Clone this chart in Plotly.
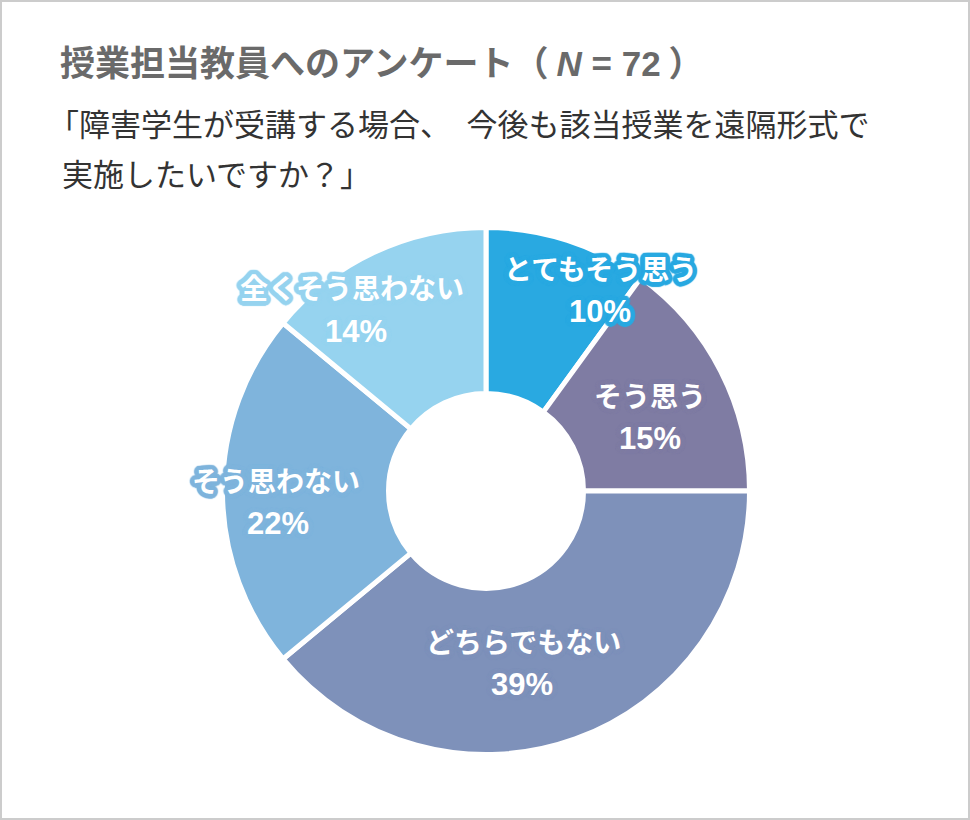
import math
import plotly.graph_objects as go

# ---- data ----
categories = ["とてもそう思う", "そう思う", "どちらでもない", "そう思わない", "全くそう思わない"]
percentages = [10, 15, 39, 22, 14]
slice_colors = ["#29A9E1", "#7F7CA3", "#7E91BA", "#7FB4DC", "#96D3EF"]

title_main = "授業担当教員へのアンケート"
title_n = "<i>N</i> = 72"
subtitle_lines = ["「障害学生が受講する場合、　今後も該当授業を遠隔形式で", "実施したいですか？」"]

# ---- layout constants (pixels) ----
W, H = 970, 820
cx, cy, R = 486, 491, 263.5
hole = 0.37

# label centre positions in pixels (name line, percentage line)
label_pos = [
    ((600, 270), (600, 311)),
    ((650, 397), (650, 438)),
    ((523, 643), (522, 684)),
    ((276, 482), (278, 523)),
    ((352, 289), (356, 331)),
]


def px(x):
    return x / W


def py(y):
    return 1 - y / H


def outline(c, r=4.5):
    offs = []
    for k in range(24):
        a = 2 * math.pi * k / 24
        offs.append(f"{r*math.cos(a):.1f}px {r*math.sin(a):.1f}px 1px {c}")
    return ", ".join(offs)


fig = go.Figure()
fig.add_trace(go.Pie(
    labels=categories,
    values=percentages,
    sort=False,
    direction="clockwise",
    rotation=0,
    hole=hole,
    marker=dict(colors=slice_colors, line=dict(color="white", width=5)),
    textinfo="none",
    hoverinfo="label+percent",
    showlegend=False,
    domain=dict(x=[px(cx - R), px(cx + R)], y=[py(cy + R), py(cy - R)]),
))

label_font = "Liberation Sans, Noto Sans CJK JP, sans-serif"
annotations = []
for name, pct, col, ((x1, y1), (x2, y2)) in zip(categories, percentages, slice_colors, label_pos):
    annotations.append(dict(
        x=px(x1), y=py(y1), xref="paper", yref="paper", xanchor="center", yanchor="middle",
        text=f"<b>{name}</b>", showarrow=False,
        font=dict(family=label_font, size=28, color="white", shadow=outline(col)),
    ))
    annotations.append(dict(
        x=px(x2), y=py(y2), xref="paper", yref="paper", xanchor="center", yanchor="middle",
        text=f"<b>{pct}%</b>", showarrow=False,
        font=dict(family=label_font, size=31, color="white", shadow=outline(col)),
    ))

annotations.append(dict(
    x=px(58), y=py(61), xref="paper", yref="paper", xanchor="left", yanchor="middle",
    text=(f"<b>{title_main}（ <span style='font-family:Liberation Sans'>{title_n}</span> ）</b>"),
    showarrow=False,
    font=dict(family="Noto Sans CJK JP, Liberation Sans, sans-serif", size=35, color="#6a6a6a"),
))
annotations.append(dict(
    x=px(46), y=py(122), xref="paper", yref="paper", xanchor="left", yanchor="middle",
    text=subtitle_lines[0], showarrow=False,
    font=dict(family="Noto Sans CJK JP, sans-serif", size=31, color="#333333"),
))
annotations.append(dict(
    x=px(60), y=py(173), xref="paper", yref="paper", xanchor="left", yanchor="middle",
    text=subtitle_lines[1], showarrow=False,
    font=dict(family="Noto Sans CJK JP, sans-serif", size=31, color="#333333"),
))

fig.update_layout(
    width=W, height=H,
    margin=dict(l=0, r=0, t=0, b=0),
    paper_bgcolor="white",
    plot_bgcolor="white",
    annotations=annotations,
    shapes=[dict(type="rect", xref="paper", yref="paper",
                 x0=px(1), x1=px(969), y0=py(819), y1=py(1),
                 line=dict(color="#cccccc", width=2), fillcolor="rgba(0,0,0,0)")],
)

fig.write_html("out.html", config={"displayModeBar": False},
               post_script="document.body.style.margin='0';document.body.style.overflow='hidden';")
